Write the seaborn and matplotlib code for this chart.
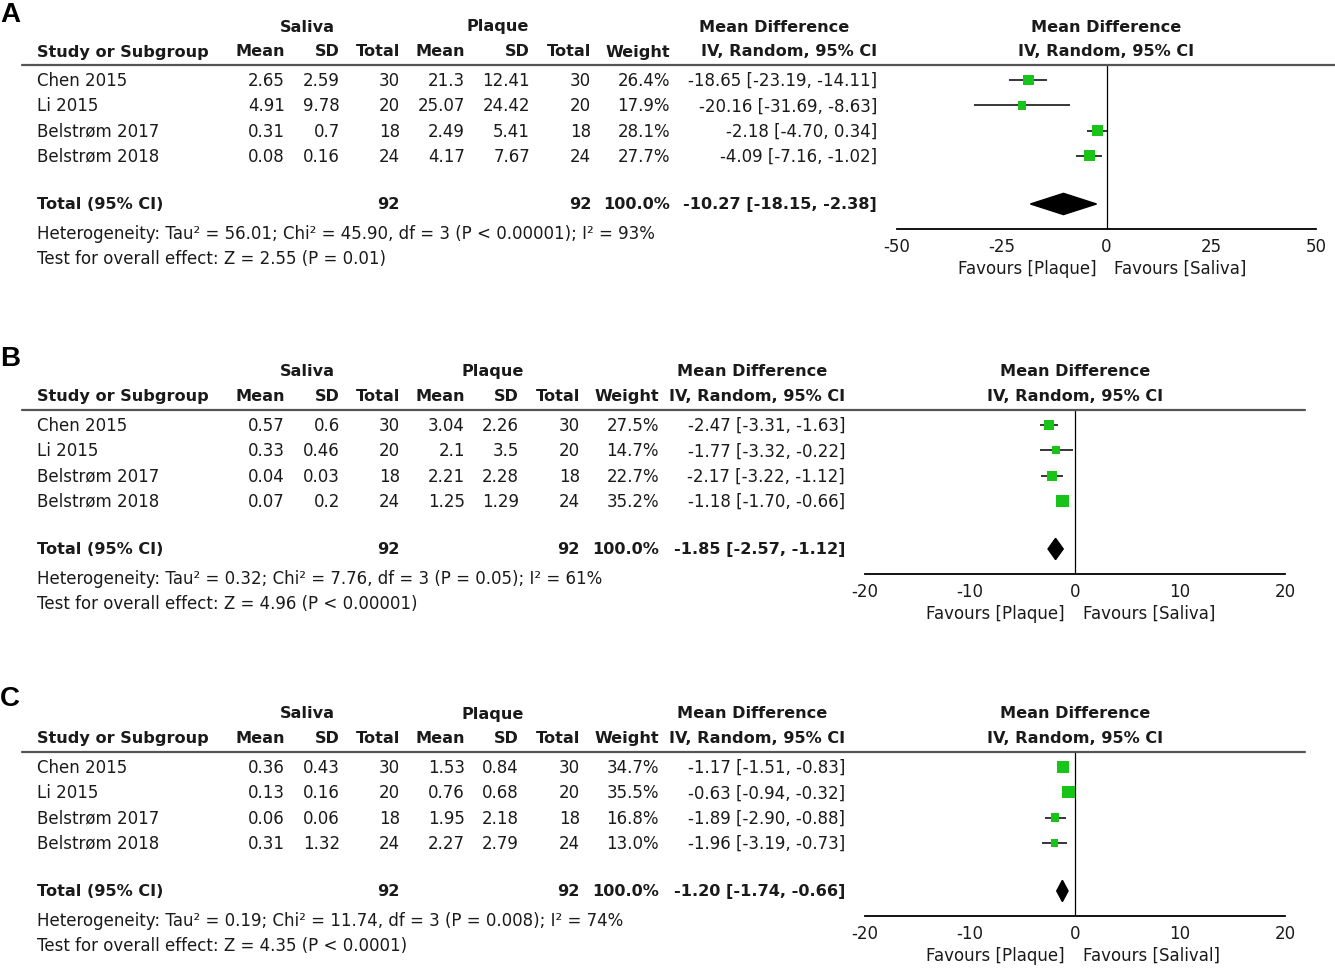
import matplotlib
matplotlib.use("Agg")
import matplotlib.pyplot as plt
from matplotlib.lines import Line2D
import pandas as pd
import seaborn as sns

studies = ["Chen 2015", "Li 2015", "Belstrøm 2017", "Belstrøm 2018"]
saliva_n = [30, 20, 18, 24]
plaque_n = [30, 20, 18, 24]

# panel A
a_sal_mean = [2.65, 4.91, 0.31, 0.08]
a_sal_sd = [2.59, 9.78, 0.7, 0.16]
a_pla_mean = [21.3, 25.07, 2.49, 4.17]
a_pla_sd = [12.41, 24.42, 5.41, 7.67]
a_weight = [26.4, 17.9, 28.1, 27.7]
a_md = [-18.65, -20.16, -2.18, -4.09]
a_lo = [-23.19, -31.69, -4.70, -7.16]
a_hi = [-14.11, -8.63, 0.34, -1.02]
a_total = [-10.27, -18.15, -2.38]
a_het = "Heterogeneity: Tau² = 56.01; Chi² = 45.90, df = 3 (P < 0.00001); I² = 93%"
a_test = "Test for overall effect: Z = 2.55 (P = 0.01)"
a_ticks = [-50, -25, 0, 25, 50]
a_favours = ["Favours [Plaque]", "Favours [Saliva]"]

# panel B
b_sal_mean = [0.57, 0.33, 0.04, 0.07]
b_sal_sd = [0.6, 0.46, 0.03, 0.2]
b_pla_mean = [3.04, 2.1, 2.21, 1.25]
b_pla_sd = [2.26, 3.5, 2.28, 1.29]
b_weight = [27.5, 14.7, 22.7, 35.2]
b_md = [-2.47, -1.77, -2.17, -1.18]
b_lo = [-3.31, -3.32, -3.22, -1.70]
b_hi = [-1.63, -0.22, -1.12, -0.66]
b_total = [-1.85, -2.57, -1.12]
b_het = "Heterogeneity: Tau² = 0.32; Chi² = 7.76, df = 3 (P = 0.05); I² = 61%"
b_test = "Test for overall effect: Z = 4.96 (P < 0.00001)"
b_ticks = [-20, -10, 0, 10, 20]
b_favours = ["Favours [Plaque]", "Favours [Saliva]"]

# panel C
c_sal_mean = [0.36, 0.13, 0.06, 0.31]
c_sal_sd = [0.43, 0.16, 0.06, 1.32]
c_pla_mean = [1.53, 0.76, 1.95, 2.27]
c_pla_sd = [0.84, 0.68, 2.18, 2.79]
c_weight = [34.7, 35.5, 16.8, 13.0]
c_md = [-1.17, -0.63, -1.89, -1.96]
c_lo = [-1.51, -0.94, -2.90, -3.19]
c_hi = [-0.83, -0.32, -0.88, -0.73]
c_total = [-1.20, -1.74, -0.66]
c_het = "Heterogeneity: Tau² = 0.19; Chi² = 11.74, df = 3 (P = 0.008); I² = 74%"
c_test = "Test for overall effect: Z = 4.35 (P < 0.0001)"
c_ticks = [-20, -10, 0, 10, 20]
c_favours = ["Favours [Plaque]", "Favours [Salival]"]

total_weight = 100.0

W, H = 1335, 970
sns.set_style("white")
plt.rcParams["font.family"] = ["DejaVu Sans"]
plt.rcParams["axes.unicode_minus"] = False
FS = 12.0
FSB = 11.6
TXT = "#1a1a1a"
GREEN = "#19c419"
ROW_H = 25.3

fig = plt.figure(figsize=(W / 100, H / 100), dpi=100)
fig.patch.set_facecolor("white")


def put(x, y, s, ha="left", bold=False, size=None):
    if size is None:
        size = FSB if bold else FS
    fig.text(x / W, 1 - y / H, s, ha=ha, va="center", fontsize=size,
             fontweight="bold" if bold else "normal", color=TXT)


def hline(x0, x1, y):
    fig.add_artist(Line2D([x0 / W, x1 / W], [1 - y / H, 1 - y / H],
                          color="#555555", lw=1.6))


def ci_text(m, lo, hi):
    return f"{m:.2f} [{lo:.2f}, {hi:.2f}]"


panels = [
    dict(label="A", label_y=15, top=27, cols=[285, 340, 400, 465, 530, 591, 670, 877],
         md_center=774, line_end=1335, fx=(897, 1316), xlim=(-50, 50),
         sal_mean=a_sal_mean, sal_sd=a_sal_sd, pla_mean=a_pla_mean, pla_sd=a_pla_sd,
         weight=a_weight, md=a_md, lo=a_lo, hi=a_hi, total=a_total,
         het=a_het, test=a_test, ticks=a_ticks, favours=a_favours),
    dict(label="B", label_y=359, top=372, cols=[285, 340, 400, 465, 519, 580, 659, 845],
         md_center=752, line_end=1305, fx=(865, 1285), xlim=(-20, 20),
         sal_mean=b_sal_mean, sal_sd=b_sal_sd, pla_mean=b_pla_mean, pla_sd=b_pla_sd,
         weight=b_weight, md=b_md, lo=b_lo, hi=b_hi, total=b_total,
         het=b_het, test=b_test, ticks=b_ticks, favours=b_favours),
    dict(label="C", label_y=699, top=714, cols=[285, 340, 400, 465, 519, 580, 659, 845],
         md_center=752, line_end=1305, fx=(865, 1285), xlim=(-20, 20),
         sal_mean=c_sal_mean, sal_sd=c_sal_sd, pla_mean=c_pla_mean, pla_sd=c_pla_sd,
         weight=c_weight, md=c_md, lo=c_lo, hi=c_hi, total=c_total,
         het=c_het, test=c_test, ticks=c_ticks, favours=c_favours),
]

TOTAL_ROW = 4.9

for p in panels:
    top = p["top"]
    cols = p["cols"]
    row_y = lambda r: top + 54 + ROW_H * r

    fig.text(0 / W, 1 - p["label_y"] / H, p["label"], ha="left", va="center",
             fontsize=20, fontweight="bold", color="black",
             family=["Liberation Sans", "DejaVu Sans"])

    # header
    put((cols[0] + cols[2]) / 2 - 35, top, "Saliva", ha="center", bold=True)
    put((cols[3] + cols[5]) / 2 - 30, top, "Plaque", ha="center", bold=True)
    put(p["md_center"], top, "Mean Difference", ha="center", bold=True)
    zero_px = (p["fx"][0] + p["fx"][1]) / 2
    put(zero_px, top, "Mean Difference", ha="center", bold=True)
    y2 = top + 25
    put(37, y2, "Study or Subgroup", bold=True)
    for x, s in zip(cols, ["Mean", "SD", "Total", "Mean", "SD", "Total", "Weight",
                           "IV, Random, 95% CI"]):
        put(x, y2, s, ha="right", bold=True)
    put(zero_px, y2, "IV, Random, 95% CI", ha="center", bold=True)
    hline(22, p["line_end"], top + 39)

    # study rows
    for i, st in enumerate(studies):
        y = row_y(i)
        put(37, y, st)
        vals = [f"{p['sal_mean'][i]:g}", f"{p['sal_sd'][i]:g}", f"{saliva_n[i]}",
                f"{p['pla_mean'][i]:g}", f"{p['pla_sd'][i]:g}", f"{plaque_n[i]}",
                f"{p['weight'][i]:.1f}%", ci_text(p["md"][i], p["lo"][i], p["hi"][i])]
        for x, s in zip(cols, vals):
            put(x, y, s, ha="right")

    yt = row_y(TOTAL_ROW)
    put(37, yt, "Total (95% CI)", bold=True)
    put(cols[2], yt, f"{sum(saliva_n)}", ha="right", bold=True)
    put(cols[5], yt, f"{sum(plaque_n)}", ha="right", bold=True)
    put(cols[6], yt, f"{total_weight:.1f}%", ha="right", bold=True)
    put(cols[7], yt, ci_text(*p["total"]), ha="right", bold=True)
    put(37, top + 207, p["het"])
    put(37, top + 232, p["test"])

    # forest axes
    ax_top = top + 39
    ax_bot = top + 203
    x0, x1 = p["fx"]
    ax = fig.add_axes([x0 / W, 1 - ax_bot / H, (x1 - x0) / W, (ax_bot - ax_top) / H])
    ax.set_facecolor("none")
    ax.set_xlim(*p["xlim"])
    ax.set_ylim((ax_bot - top - 54) / ROW_H, (ax_top - top - 54) / ROW_H)

    df = pd.DataFrame({"md": p["md"], "lo": p["lo"], "hi": p["hi"],
                       "weight": p["weight"], "row": range(len(studies))})
    ax.hlines(df["row"], df["lo"], df["hi"], color="black", lw=1.1, zorder=2)
    sns.scatterplot(data=df, x="md", y="row", size="weight", size_norm=(10, 40),
                    sizes=(22, 88), marker="s", color=GREEN, edgecolor=GREEN,
                    linewidth=0, legend=False, ax=ax, zorder=3)
    m, lo, hi = p["total"]
    h = 0.42
    ax.fill([lo, m, hi, m], [TOTAL_ROW, TOTAL_ROW - h, TOTAL_ROW, TOTAL_ROW + h],
            color="black", zorder=3)
    ax.axvline(0, color="black", lw=0.9, zorder=1)

    for s in ["top", "left", "right"]:
        ax.spines[s].set_visible(False)
    ax.spines["bottom"].set_color("black")
    ax.spines["bottom"].set_linewidth(1.3)
    ax.set_xticks(p["ticks"])
    ax.set_xticklabels([str(t) for t in p["ticks"]])
    ax.set_yticks([])
    ax.set_xlabel("")
    ax.set_ylabel("")
    ax.tick_params(axis="x", direction="inout", length=10, width=1.3, pad=1,
                   labelsize=FS, colors="black", labelcolor=TXT)

    put(zero_px - 10, top + 242, p["favours"][0], ha="right")
    put(zero_px + 8, top + 242, p["favours"][1], ha="left")

fig.savefig("out.png", dpi=100, facecolor="white")
